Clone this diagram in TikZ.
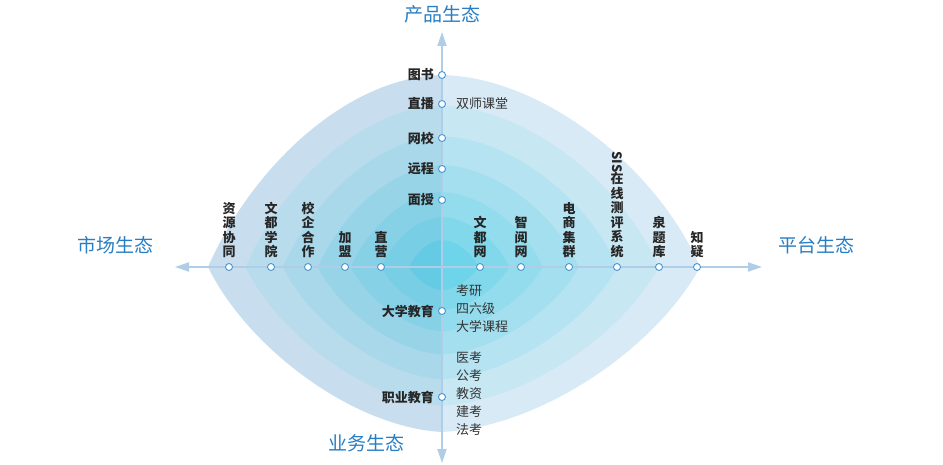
\documentclass[tikz,border=0pt]{standalone}
\usepackage{fontspec}
\setmainfont{Noto Sans CJK SC}
\usepackage{graphicx}
\usetikzlibrary{arrows.meta}
\definecolor{outerc}{RGB}{216,234,245}
\definecolor{innerc}{RGB}{100,210,232}
\definecolor{titlec}{RGB}{40,125,195}
\definecolor{axisc}{RGB}{175,205,230}
\definecolor{dotc}{RGB}{70,150,215}
\newcommand\lenspath{(0,-192) .. controls (100,-190) and (215,-100) .. (258,0) .. controls (215,80) and (100,160) .. (0,165) .. controls (-90,160) and (-195,80) .. (-234,0) .. controls (-190,-100) and (-95,-190) .. (0,-192) -- cycle}
\tikzset{
  dot/.style={circle,draw=dotc,fill=white,line width=0.9pt,inner sep=0pt,minimum size=7pt},
  vlab/.style={font=\bfseries\fontsize{13}{14.5}\selectfont,align=center,anchor=south,inner sep=0pt,text=black!85},
  hlab/.style={font=\bfseries\fontsize{13}{14}\selectfont,anchor=east,inner sep=0pt,text=black!85},
  side/.style={font=\fontsize{13}{18}\selectfont,anchor=north west,align=left,inner sep=0pt,text=black!80},
  title/.style={font=\fontsize{19}{20}\selectfont,text=titlec}
}
\begin{document}
\begin{tikzpicture}[x=1pt,y=-1pt]
\useasboundingbox (0,0) rectangle (943,465);
% layers
\foreach \s/\m in {1/0,0.84/15,0.68/30,0.53/45,0.39/60,0.26/75,0.14/92}{
  \begin{scope}[shift={(442,267)},scale=\s]
    \fill[innerc!\m!outerc] \lenspath;
  \end{scope}
}
\begin{scope}
  \clip (0,0) rectangle (442,465);
  \begin{scope}[shift={(442,267)}]
    \fill[blue!50!cyan!60!black,opacity=0.07] \lenspath;
  \end{scope}
\end{scope}
% axes
\coordinate (L) at (175,267); \coordinate (R) at (762,267);
\coordinate (T) at (442,32); \coordinate (B) at (442,463);
\draw[axisc,line width=2pt,{Triangle[width=9pt,length=14pt]}-{Triangle[width=9pt,length=14pt]}] (L) -- (R);
\draw[axisc,line width=2pt,{Triangle[width=9pt,length=14pt]}-{Triangle[width=9pt,length=14pt]}] (T) -- (B);
% titles
\node[title] (t1) at (442,14) {产品生态};
\node[title] (t2) at (115,245) {市场生态};
\node[title] (t3) at (816,245) {平台生态};
\node[title] (t4) at (366,443) {业务生态};
% vertical axis dots
\foreach \n/\y/\t in {a/75/图书,b/104/直播,c/138/网校,d/169/远程,e/200/面授,f/311/大学教育,g/397/职业教育}{
  \node[dot] (\n) at (442,\y) {};
  \node[hlab] at ([xshift=-8pt]\n.center) {\t};
}
\node[side,anchor=west] (s1) at (456,104) {双师课堂};
\node[side] (s2) at (456,284) {考研\\四六级\\大学课程};
\node[side] (s3) at (456,351) {医考\\公考\\教资\\建考\\法考};
% horizontal axis dots
\foreach \n/\x/\t in {h1/229/资\\源\\协\\同,h2/271/文\\都\\学\\院,h3/308/校\\企\\合\\作,h4/345/加\\盟,h5/381/直\\营,
  h6/480/文\\都\\网,h7/521/智\\阅\\网,h8/569/电\\商\\集\\群,h10/659/泉\\题\\库,h11/697/知\\疑}{
  \node[dot] (\n) at (\x,267) {};
  \node[vlab] at ([yshift=9pt]\n.center) {\t};
}
\node[dot] (h9) at (617,267) {};
\node[vlab] at ([yshift=9pt]h9.center) {\rotatebox{-90}{SIS}\\[-1pt]在\\线\\测\\评\\系\\统};
\end{tikzpicture}
\end{document}
